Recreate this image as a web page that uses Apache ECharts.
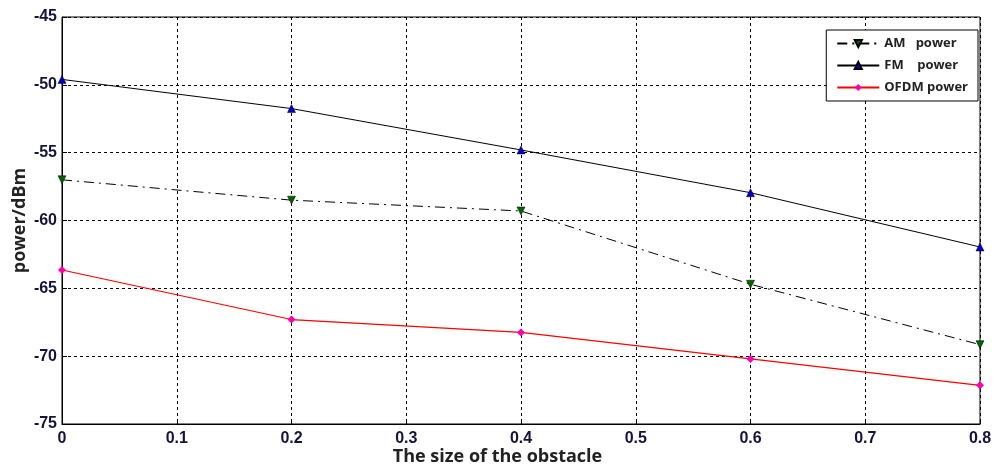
<!DOCTYPE html>
<html><head><meta charset="utf-8">
<script src="https://cdn.jsdelivr.net/npm/echarts@6/dist/echarts.min.js"></script>
<style>html,body{margin:0;padding:0;background:#fff}#c{width:995px;height:468px}</style>
</head><body><div id="c"></div>
<script>
const xValues = [0, 0.2, 0.4, 0.6, 0.8];
const amPower = [-57.0, -58.5, -59.3, -64.7, -69.15];
const fmPower = [-49.6, -51.75, -54.8, -57.95, -61.95];
const ofdmPower = [-63.65, -67.3, -68.25, -70.2, -72.15];
const seriesNames = ['AM   power', 'FM    power', 'OFDM power'];
const xTitle = 'The size of the obstacle';
const yTitle = 'power/dBm';

const pair = arr => xValues.map((x, i) => [x, arr[i]]);
const chart = echarts.init(document.getElementById('c'));
const tickFont = {color: '#14143a', fontWeight: 'bold', fontSize: 16, fontFamily: 'Liberation Sans, Arial'};
chart.setOption({
  animation: false,
  backgroundColor: '#fff',
  title: {text: xTitle, left: 'center', top: 443,
    textStyle: {fontSize: 18, fontWeight: 'bold', color: '#222', fontFamily: 'Open Sans, Liberation Sans'}},
  grid: {left: 62, right: 15, top: 17, bottom: 44, outerBoundsMode: 'none', containLabel: false,
    show: true, borderColor: '#000', borderWidth: 1},
  legend: {
    orient: 'vertical', right: 17, top: 30, padding: [7, 10, 7, 10],
    backgroundColor: '#fff', borderColor: '#000', borderWidth: 1, borderRadius: 0,
    itemWidth: 42, itemHeight: 9, itemGap: 9,
    textStyle: {fontSize: 13, fontWeight: 'bold', color: '#222', fontFamily: 'Open Sans, Liberation Sans'},
    data: seriesNames
  },
  xAxis: {
    type: 'value', min: 0, max: 0.8, interval: 0.1,
    axisLine: {lineStyle: {color: '#000'}},
    axisTick: {inside: true, length: 5, lineStyle: {color: '#000'}},
    axisLabel: Object.assign({margin: 7}, tickFont),
    splitLine: {show: true, lineStyle: {color: '#000', type: [3, 3], width: 1}}
  },
  yAxis: {
    type: 'value', min: -75, max: -45, interval: 5,
    name: yTitle, nameLocation: 'middle', nameGap: 33, nameMoveOverlap: false,
    nameTextStyle: {fontSize: 18, fontWeight: 'bold', color: '#222', fontFamily: 'Open Sans, Liberation Sans'},
    axisLine: {lineStyle: {color: '#000'}},
    axisTick: {inside: true, length: 5, lineStyle: {color: '#000'}},
    axisLabel: Object.assign({margin: 5}, tickFont),
    splitLine: {show: true, lineStyle: {color: '#000', type: [3, 3], width: 1}}
  },
  series: [
    {name: seriesNames[0], type: 'line', data: pair(amPower), symbol: 'triangle', symbolRotate: 180, symbolSize: 8,
     lineStyle: {color: '#000', width: 1, type: [10, 5, 2, 5]}, itemStyle: {color: '#006400', borderColor: '#000', borderWidth: 0.5}},
    {name: seriesNames[1], type: 'line', data: pair(fmPower), symbol: 'triangle', symbolSize: 8,
     lineStyle: {color: '#000', width: 1}, itemStyle: {color: '#0000cc', borderColor: '#000', borderWidth: 0.5}},
    {name: seriesNames[2], type: 'line', data: pair(ofdmPower), symbol: 'diamond', symbolSize: 8,
     lineStyle: {color: '#ff0000', width: 1.2}, itemStyle: {color: '#ff00aa'}}
  ]
});
</script></body></html>
